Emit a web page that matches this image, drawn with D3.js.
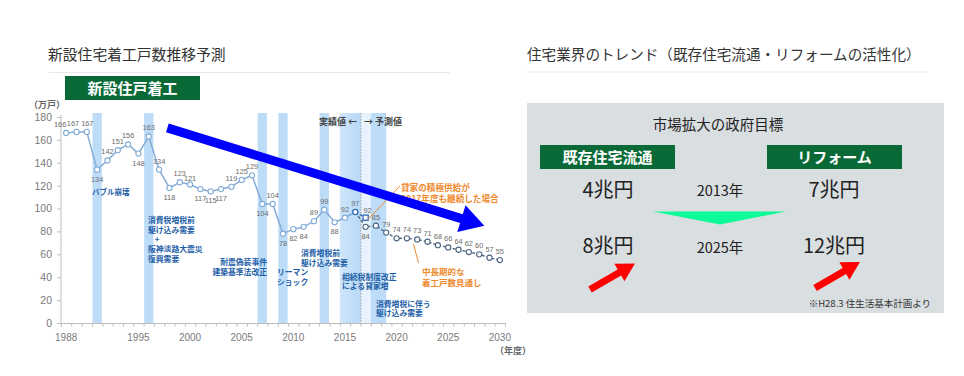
<!DOCTYPE html>
<html>
<head>
<meta charset="utf-8">
<script src="https://cdn.jsdelivr.net/npm/d3@7/dist/d3.min.js"></script>
<style>
  body { margin: 0; background: #fff; }
  svg { display: block; font-family: "Liberation Sans", "Noto Sans CJK JP", sans-serif; }
  .jp { font-family: "Noto Sans CJK JP", sans-serif; }
</style>
</head>
<body>
<svg id="chart" width="964" height="376"></svg>
<script>
// actual housing starts (10k units), fiscal years 1988-2016
const actualYears = d3.range(1988, 2017);
const actualValues = [166, 167, 167, 134, 142, 151, 156, 148, 163, 134, 118, 123, 121, 117, 115,
  117, 119, 125, 129, 104, 104, 78, 82, 84, 89, 99, 88, 92, 97];
// mid/long term forecast 2016-2030
const forecastYears = d3.range(2016, 2031);
const forecastValues = [97, 84, 85, 79, 74, 74, 73, 71, 68, 66, 64, 62, 60, 57, 55];
// scenario: rental supply continues in 2017
const scenarioYear = 2017;
const scenarioValue = 92;
// years whose value label sits under the point
const labelsBelow = [1991, 1995, 1998, 2001, 2002, 2003, 2007, 2009, 2010, 2011, 2014];
const yTicks = [0, 20, 40, 60, 80, 100, 120, 140, 160, 180];
const xTickLabels = [1988, 1995, 2000, 2005, 2010, 2015, 2020, 2025, 2030];
const eventYears = [1991, 1996, 2007, 2009, 2013];

// right panel: government targets
const targetNames = ['既存住宅流通', 'リフォーム'];
const target2013 = ['4兆円', '7兆円'];
const target2025 = ['8兆円', '12兆円'];

// small nudges for crowded value labels (px)
const labelNudgeX = { 1988: -6, 1989: -3.5, 1990: 0.5 };

const svg = d3.select('#chart');
const defs = svg.append('defs');

const x = d3.scaleLinear().domain([1987.5, 2030.5]).range([61, 505]);
const y = d3.scaleLinear().domain([0, 180]).range([323, 117]);

const blueText = '#1f5fa8';
const orange = '#ef8a2e';
const lineBlue = '#84acd6';
const darkLine = '#4d6680';

// ---------- left: titles ----------
svg.append('text').attr('class', 'jp').attr('x', 48).attr('y', 60)
  .attr('font-size', 14.8).attr('fill', '#333').text('新設住宅着工戸数推移予測');
svg.append('line').attr('x1', 49).attr('x2', 450).attr('y1', 72.5).attr('y2', 72.5)
  .attr('stroke', '#ebeae2').attr('stroke-width', 1);
svg.append('rect').attr('x', 65).attr('y', 76).attr('width', 135).attr('height', 24).attr('fill', '#0a6a37');
svg.append('text').attr('class', 'jp').attr('x', 132.5).attr('y', 93.5).attr('text-anchor', 'middle')
  .attr('font-size', 15).attr('font-weight', 'bold').attr('fill', '#fff').text('新設住戸着工');

// ---------- shaded bands ----------
const grad = defs.append('linearGradient').attr('id', 'bandGrad').attr('x1', 0).attr('x2', 1);
grad.append('stop').attr('offset', '0%').attr('stop-color', '#cfe5fa');
grad.append('stop').attr('offset', '100%').attr('stop-color', '#b7d9f7');

const bandTop = 113;
svg.append('g').selectAll('rect').data(eventYears).join('rect')
  .attr('x', d => x(d - 0.45)).attr('width', d => x(d + 0.45) - x(d - 0.45))
  .attr('y', bandTop).attr('height', y(0) - bandTop).attr('fill', '#bcdcf8');
svg.append('rect').attr('x', x(2014.5)).attr('width', x(2016.55) - x(2014.5))
  .attr('y', bandTop).attr('height', y(0) - bandTop).attr('fill', 'url(#bandGrad)');
svg.append('rect').attr('x', x(2016.55)).attr('width', x(2017.5) - x(2016.55))
  .attr('y', bandTop).attr('height', y(0) - bandTop).attr('fill', '#e7f2fc');
svg.append('rect').attr('x', x(2017.5)).attr('width', x(2019) - x(2017.5))
  .attr('y', bandTop).attr('height', y(0) - bandTop).attr('fill', '#bcdcf8');
svg.append('line').attr('x1', x(2016.55)).attr('x2', x(2016.55)).attr('y1', bandTop).attr('y2', y(0))
  .attr('stroke', '#9a9a9a').attr('stroke-width', 0.8).attr('stroke-dasharray', '1.5,1.5');

// ---------- axes ----------
const yAxis = svg.append('g').attr('transform', `translate(${x(1987.5)},0)`)
  .call(d3.axisLeft(y).tickValues(yTicks).tickSize(4).tickPadding(5));
yAxis.select('.domain').attr('stroke', '#bdbdbd').attr('d', `M0,${y(0)}V${y(180) - 2}`);
yAxis.selectAll('.tick line').attr('stroke', '#bdbdbd');
yAxis.selectAll('text').attr('font-size', 10.5).attr('fill', '#7a7a7a')
  .attr('font-family', '"Liberation Sans", sans-serif');

const xAxis = svg.append('g').attr('transform', `translate(0,${y(0)})`)
  .call(d3.axisBottom(x).tickValues(d3.range(1987.5, 2031, 1)).tickSize(3.5).tickFormat(''));
xAxis.select('.domain').attr('stroke', '#bdbdbd');
xAxis.selectAll('.tick line').attr('stroke', '#bdbdbd');
svg.append('g').selectAll('text').data(xTickLabels).join('text')
  .attr('x', d => x(d)).attr('y', 341).attr('text-anchor', 'middle')
  .attr('font-size', 10).attr('fill', '#7a7a7a').text(d => d);

svg.append('text').attr('class', 'jp').attr('x', 29).attr('y', 107.5)
  .attr('font-size', 9).attr('font-weight', 'bold').attr('fill', '#666').text('（万戸）');
svg.append('text').attr('class', 'jp').attr('x', 495).attr('y', 354)
  .attr('font-size', 9).attr('font-weight', 'bold').attr('fill', '#666').text('（年度）');

svg.append('text').attr('class', 'jp').attr('x', 357).attr('y', 125).attr('text-anchor', 'end')
  .attr('font-size', 9).attr('font-weight', 'bold').attr('fill', '#444').text('実績値 ←');
svg.append('text').attr('class', 'jp').attr('x', 364).attr('y', 125)
  .attr('font-size', 9).attr('font-weight', 'bold').attr('fill', '#444').text('→ 予測値');

// ---------- lines ----------
const actual = actualYears.map((yr, i) => ({ year: yr, value: actualValues[i] }));
const forecast = forecastYears.map((yr, i) => ({ year: yr, value: forecastValues[i] }));
const line = d3.line().x(d => x(d.year)).y(d => y(d.value));

svg.append('path').datum(actual).attr('d', line).attr('fill', 'none')
  .attr('stroke', lineBlue).attr('stroke-width', 1.5);
svg.append('path').datum(forecast).attr('d', line).attr('fill', 'none')
  .attr('stroke', darkLine).attr('stroke-width', 1.4).attr('stroke-dasharray', '3,2');
svg.append('path').datum([actual[actual.length - 1], { year: scenarioYear, value: scenarioValue }])
  .attr('d', line).attr('fill', 'none').attr('stroke', '#3d6fa8').attr('stroke-width', 1.4)
  .attr('stroke-dasharray', '3,2');

svg.append('g').selectAll('circle').data(actual.slice(0, -1)).join('circle')
  .attr('cx', d => x(d.year)).attr('cy', d => y(d.value)).attr('r', 2.6)
  .attr('fill', '#fff').attr('stroke', lineBlue).attr('stroke-width', 1.1);
svg.append('g').selectAll('circle').data(forecast.slice(1)).join('circle')
  .attr('cx', d => x(d.year)).attr('cy', d => y(d.value)).attr('r', 2.6)
  .attr('fill', '#fff').attr('stroke', darkLine).attr('stroke-width', 1.1);
svg.append('circle').attr('cx', x(2016)).attr('cy', y(97)).attr('r', 2.6)
  .attr('fill', '#fff').attr('stroke', '#2c6bb5').attr('stroke-width', 1.3);
svg.append('rect').attr('x', x(scenarioYear) - 2.6).attr('y', y(scenarioValue) - 2.6)
  .attr('width', 5.2).attr('height', 5.2).attr('fill', '#fff')
  .attr('stroke', '#2c6bb5').attr('stroke-width', 1.3);

// value labels
const lbl = svg.append('g').attr('font-size', 7.4).attr('fill', '#6b6b6b').attr('text-anchor', 'middle');
lbl.selectAll('text.a').data(actual).join('text').attr('class', 'a')
  .attr('x', d => x(d.year) + (labelNudgeX[d.year] || 0))
  .attr('y', d => labelsBelow.includes(d.year) ? y(d.value) + 12
    : y(d.value) - (d.year === 2000 ? 3.5 : 6))
  .text(d => d.value);
lbl.selectAll('text.f').data(forecast.slice(1)).join('text').attr('class', 'f')
  .attr('x', d => x(d.year))
  .attr('y', d => d.year === 2017 ? y(d.value) + 12 : y(d.value) - 6)
  .text(d => d.value);
lbl.append('text').attr('x', x(scenarioYear) + 2).attr('y', y(scenarioValue) - 5).text(scenarioValue);

// ---------- event annotations ----------
function note(lines, px, py, anchor, color, size, step) {
  const t = svg.append('text').attr('class', 'jp').attr('x', px).attr('y', py)
    .attr('text-anchor', anchor).attr('font-size', size).attr('font-weight', 'bold').attr('fill', color);
  lines.forEach((s, i) => t.append('tspan').attr('x', px).attr('dy', i ? step : 0).text(s));
}
note(['バブル崩壊'], 92, 195, 'start', blueText, 7.5, 10);
note(['消費税増税前', '駆け込み需要'], 148, 223, 'start', blueText, 7.8, 9.7);
note(['+'], 157, 242, 'middle', blueText, 8, 10);
note(['阪神淡路大震災', '復興需要'], 148, 252, 'start', blueText, 7.8, 9.7);
note(['耐震偽装事件', '建築基準法改正'], 267, 265, 'end', blueText, 7.8, 10);
note(['リーマン', 'ショック'], 277, 274.5, 'start', blueText, 7.8, 10.5);
note(['消費増税前', '駆け込み需要'], 301, 256, 'start', blueText, 7.8, 9.7);
note(['相続税制度改正', 'による貸家増'], 342, 279.5, 'start', blueText, 7.8, 9.7);
note(['消費増税に伴う', '駆け込み需要'], 376, 306.5, 'start', blueText, 7.8, 9.7);
note(['貸家の積極供給が', '2017年度も継続した場合'], 401, 190.5, 'start', orange, 8.6, 11.7);
note(['中長期的な', '着工戸数見通し'], 422, 274.5, 'start', orange, 8.5, 11.2);

svg.append('path').attr('d', `M${x(scenarioYear) + 2},${y(scenarioValue) + 2}L400,186`)
  .attr('stroke', orange).attr('stroke-width', 1).attr('fill', 'none');
svg.append('line').attr('x1', 413.5).attr('y1', 244).attr('x2', 418.5).attr('y2', 263)
  .attr('stroke', orange).attr('stroke-width', 1);

// ---------- arrows ----------
function arrow(x0, y0, x1, y1, shaft, headLen, headW) {
  const dx = x1 - x0, dy = y1 - y0, L = Math.hypot(dx, dy);
  const ux = dx / L, uy = dy / L, nx = -uy, ny = ux;
  const bx = x1 - ux * headLen, by = y1 - uy * headLen;
  const p = [
    [x0 + nx * shaft / 2, y0 + ny * shaft / 2],
    [bx + nx * shaft / 2, by + ny * shaft / 2],
    [bx + nx * headW / 2, by + ny * headW / 2],
    [x1, y1],
    [bx - nx * headW / 2, by - ny * headW / 2],
    [bx - nx * shaft / 2, by - ny * shaft / 2],
    [x0 - nx * shaft / 2, y0 - ny * shaft / 2]
  ];
  return 'M' + p.map(q => q.join(',')).join('L') + 'Z';
}
// big trend arrow over the chart
svg.append('path').attr('d', arrow(x(1997.8), y(170.5), x(2028.5), y(85), 9, 24, 28)).attr('fill', '#0000ff');

// ---------- right panel ----------
svg.append('text').attr('class', 'jp').attr('x', 527).attr('y', 60)
  .attr('font-size', 14.6).attr('fill', '#333').text('住宅業界のトレンド（既存住宅流通・リフォームの活性化）');
svg.append('line').attr('x1', 527).attr('x2', 928).attr('y1', 72).attr('y2', 72)
  .attr('stroke', '#ebeae2').attr('stroke-width', 1);

svg.append('rect').attr('x', 527).attr('y', 103).attr('width', 417).attr('height', 210).attr('fill', '#d9dee1');
svg.append('text').attr('class', 'jp').attr('x', 718).attr('y', 130).attr('text-anchor', 'middle')
  .attr('font-size', 14.5).attr('fill', '#222').text('市場拡大の政府目標');

const colX = [608, 834];
const boxX = [540, 767];
targetNames.forEach((name, i) => {
  svg.append('rect').attr('x', boxX[i]).attr('y', 145).attr('width', 135).attr('height', 24).attr('fill', '#0a6a37');
  svg.append('text').attr('class', 'jp').attr('x', boxX[i] + 67.5).attr('y', 163).attr('text-anchor', 'middle')
    .attr('font-size', 15).attr('font-weight', 'bold').attr('fill', '#fff').text(name);
  svg.append('text').attr('class', 'jp').attr('x', colX[i]).attr('y', 197).attr('text-anchor', 'middle')
    .attr('font-size', 20).attr('fill', '#222').text(target2013[i]);
  svg.append('text').attr('class', 'jp').attr('x', colX[i]).attr('y', 253).attr('text-anchor', 'middle')
    .attr('font-size', 20).attr('fill', '#222').text(target2025[i]);
});
svg.append('text').attr('class', 'jp').attr('x', 720).attr('y', 196).attr('text-anchor', 'middle')
  .attr('font-size', 14.5).attr('fill', '#222').text('2013年');
svg.append('text').attr('class', 'jp').attr('x', 720).attr('y', 253).attr('text-anchor', 'middle')
  .attr('font-size', 14.5).attr('fill', '#222').text('2025年');
svg.append('path').attr('d', 'M653,211.5L786,211.5L720,224.5Z').attr('fill', '#0dfa98');

svg.append('path').attr('d', arrow(590, 289.5, 635, 263.5, 7, 18, 20)).attr('fill', '#ff0000');
svg.append('path').attr('d', arrow(815, 288, 860, 262, 7, 18, 20)).attr('fill', '#ff0000');

svg.append('text').attr('class', 'jp').attr('x', 931).attr('y', 307).attr('text-anchor', 'end')
  .attr('font-size', 9.5).attr('fill', '#333').text('※H28.3 住生活基本計画より');
</script>
</body>
</html>
